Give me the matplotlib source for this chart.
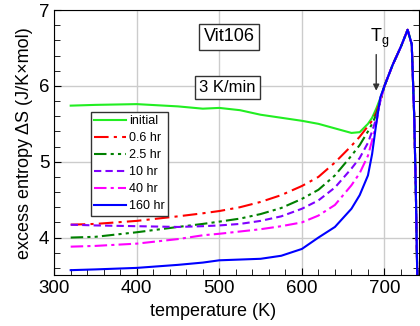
import matplotlib
matplotlib.use("Agg")
import matplotlib.pyplot as plt
from matplotlib.ticker import MultipleLocator

plt.rcParams['font.family'] = ['Liberation Sans', 'DejaVu Sans']

T = [320, 350, 400, 450, 480, 500, 525, 550, 575, 600, 620, 640, 660, 670, 680,
     685, 690, 695, 700, 710, 720, 728, 733, 736, 738, 740]
tail = [6.28, 6.52, 6.74, 6.55, 5.6, 4.6, 3.3]

s_initial = [5.74, 5.75, 5.76, 5.73, 5.70, 5.71, 5.68, 5.62, 5.58, 5.54, 5.50, 5.44, 5.38, 5.39, 5.50, 5.58, 5.70, 5.84, 6.0] + tail
s_06 = [4.17, 4.18, 4.22, 4.28, 4.32, 4.35, 4.40, 4.47, 4.56, 4.68, 4.80, 4.99, 5.21, 5.33, 5.47, 5.54, 5.65, 5.80, 6.0] + tail
s_25 = [4.00, 4.01, 4.07, 4.14, 4.18, 4.21, 4.25, 4.31, 4.39, 4.51, 4.63, 4.82, 5.08, 5.22, 5.40, 5.50, 5.62, 5.80, 6.0] + tail
s_10 = [4.17, 4.16, 4.15, 4.14, 4.15, 4.16, 4.18, 4.22, 4.28, 4.38, 4.49, 4.66, 4.91, 5.05, 5.25, 5.40, 5.57, 5.80, 6.0] + tail
s_40 = [3.88, 3.89, 3.92, 3.98, 4.03, 4.05, 4.08, 4.11, 4.15, 4.20, 4.29, 4.43, 4.69, 4.85, 5.08, 5.28, 5.50, 5.82, 6.0] + tail
s_160 = [3.57, 3.58, 3.60, 3.64, 3.67, 3.70, 3.71, 3.72, 3.76, 3.85, 4.00, 4.14, 4.38, 4.56, 4.82, 5.10, 5.50, 5.85, 6.0] + tail

labels = ["initial", "0.6 hr", "2.5 hr", "10 hr", "40 hr", "160 hr"]
series = [s_initial, s_06, s_25, s_10, s_40, s_160]
colors = ["#22ee22", "#ff0000", "#008000", "#8000ff", "#ff00ff", "#0000ff"]
styles = ["-", (0, (7, 2.5, 1.5, 2.5)), (0, (6, 2, 1.5, 2, 1.5, 2)), (0, (3.5, 2)),
          (0, (6, 2, 1.5, 2)), "-"]

fig = plt.figure(figsize=(4.2, 3.26), dpi=100)
ax = fig.add_axes([0.129, 0.155, 0.869, 0.814])

for s, c, ls, lab in zip(series, colors, styles, labels):
    ax.plot(T, s, color=c, ls=ls, lw=1.5, label=lab)

ax.set_xlim(300, 742)
ax.set_ylim(3.5, 7)
ax.xaxis.set_major_locator(MultipleLocator(100))
ax.xaxis.set_minor_locator(MultipleLocator(20))
ax.yaxis.set_major_locator(MultipleLocator(1))
ax.yaxis.set_minor_locator(MultipleLocator(0.2))
ax.tick_params(which='both', direction='in', right=True, top=False, labelsize=13.5)
ax.tick_params(which='major', length=5)
ax.tick_params(which='minor', length=4)
ax.grid(True, which='major', color='#cccccc', lw=1)
ax.set_axisbelow(True)

ax.set_xlabel("temperature (K)", fontsize=13, x=0.435)
ax.set_ylabel("excess entropy ΔS (J/K×mol)", fontsize=13)

ax.text(512, 6.65, "Vit106", fontsize=13, ha='center', va='center',
        bbox=dict(boxstyle='square,pad=0.25', fc='white', ec='#333333', lw=1))
ax.text(510, 5.98, "3 K/min", fontsize=12, ha='center', va='center',
        bbox=dict(boxstyle='square,pad=0.25', fc='white', ec='#333333', lw=1))
ax.text(694, 6.63, "T$_\\mathregular{g}$", fontsize=13, ha='center', va='center')
ax.annotate("", xy=(690, 5.9), xytext=(690, 6.45),
            arrowprops=dict(arrowstyle='-|>', color='#333333', lw=1, mutation_scale=9))

leg = ax.legend(loc='upper left', bbox_to_anchor=(0.1, 0.617), fontsize=9,
                frameon=True, fancybox=False, edgecolor='#333333', framealpha=1,
                handlelength=2.5, handletextpad=0.25, labelspacing=0.4,
                borderpad=0.3, borderaxespad=0)
leg.get_frame().set_linewidth(1)

fig.savefig("out.png", dpi=100)
